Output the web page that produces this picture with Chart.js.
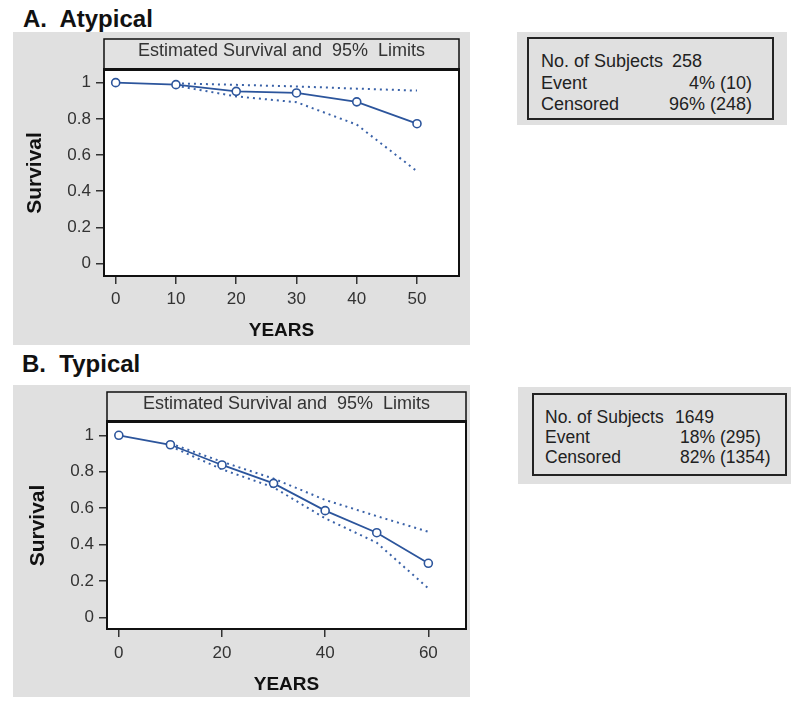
<!DOCTYPE html>
<html>
<head>
<meta charset="utf-8">
<script src="https://cdn.jsdelivr.net/npm/chart.js@4.4.1/dist/chart.umd.min.js"></script>
<style>
  body { margin:0; background:#fff; width:800px; height:710px; position:relative; overflow:hidden;
         font-family:'Liberation Sans', Arial, sans-serif; }
  .abs { position:absolute; }
  .title { font-weight:bold; font-size:24px; line-height:24px; color:#111; white-space:pre; }
  .bg { background:#e0e0e0; }
  .box { border:2px solid #222; box-sizing:border-box; }
  .lg { white-space:pre; color:#222; }
  canvas { position:absolute; background:#e0e0e0; }
</style>
</head>
<body>
<script>
// ---------- DATA ----------
const yearsA = [0, 10, 20, 30, 40, 50];
const survA  = [1.0, 0.989, 0.952, 0.943, 0.894, 0.773];
const upperA = [null, 0.996, 0.988, 0.979, 0.967, 0.956];
const lowerA = [null, 0.983, 0.924, 0.892, 0.768, 0.51];
const xTicksA = [0, 10, 20, 30, 40, 50];

const yearsB = [0, 10, 20, 30, 40, 50, 60];
const survB  = [1.0, 0.948, 0.837, 0.736, 0.586, 0.465, 0.297];
const upperB = [null, 0.955, 0.855, 0.762, 0.645, 0.556, 0.470];
const lowerB = [null, 0.940, 0.813, 0.714, 0.544, 0.410, 0.159];
const xTicksB = [0, 20, 40, 60];

const yTicks = [0, 0.2, 0.4, 0.6, 0.8, 1];
const yTickLabels = ['0', '0.2', '0.4', '0.6', '0.8', '1'];

const headerText = 'Estimated Survival and  95%  Limits';
const titleA = 'A.  Atypical';
const titleB = 'B.  Typical';
const statsA = { labels: ['No. of Subjects', 'Event', 'Censored'], values: ['258', '4% (10)', '96% (248)'] };
const statsB = { labels: ['No. of Subjects', 'Event', 'Censored'], values: ['1649', '18% (295)', '82% (1354)'] };

// ---------- HELPERS ----------
const FONT = "'Liberation Sans', Arial, sans-serif";
const LINE = '#2c559c';
const DOT = '#3a62a8';

function el(tag, cls, style, text) {
  const e = document.createElement(tag);
  if (cls) e.className = cls;
  Object.assign(e.style, style || {});
  if (text !== undefined) e.textContent = text;
  document.body.appendChild(e);
  return e;
}

const framePlugin = {
  id: 'frame',
  beforeDraw(chart, args, opts) {
    const { ctx, chartArea: { left, top, right, bottom } } = chart;
    ctx.save();
    ctx.fillStyle = '#ffffff';
    ctx.fillRect(left, top, right - left, bottom - top);
    ctx.fillStyle = '#e2e2e2';
    ctx.fillRect(left, top - opts.headerH, right - left, opts.headerH);
    ctx.restore();
  },
  afterDraw(chart, args, opts) {
    const { ctx, chartArea: { left, top, right, bottom } } = chart;
    ctx.save();
    ctx.strokeStyle = '#111';
    ctx.lineWidth = 1.5;
    ctx.strokeRect(left, top - opts.headerH, right - left, opts.headerH);
    ctx.lineWidth = 2;
    ctx.beginPath();
    ctx.moveTo(left, top); ctx.lineTo(left, bottom); ctx.lineTo(right, bottom); ctx.lineTo(right, top);
    ctx.stroke();
    ctx.lineWidth = 3;
    ctx.beginPath();
    ctx.moveTo(left - 1, top - 0.5); ctx.lineTo(right + 1, top - 0.5);
    ctx.stroke();
    ctx.fillStyle = '#333';
    ctx.font = '18px ' + FONT;
    ctx.textAlign = 'center';
    ctx.textBaseline = 'middle';
    ctx.fillText(headerText, (left + right) / 2, top - opts.headerH + 12);
    ctx.restore();
  }
};

function makeChart(cfg) {
  const c = document.createElement('canvas');
  c.width = cfg.w; c.height = cfg.h;
  c.style.left = cfg.x + 'px'; c.style.top = cfg.y + 'px';
  c.style.width = cfg.w + 'px'; c.style.height = cfg.h + 'px';
  document.body.appendChild(c);
  const pts = arr => cfg.years.map((x, i) => ({ x, y: arr[i] }));
  return new Chart(c, {
    type: 'line',
    data: {
      datasets: [
        { data: pts(cfg.upper), borderColor: DOT, borderWidth: 2, borderDash: [2, 4], pointRadius: 0, order: 2 },
        { data: pts(cfg.lower), borderColor: DOT, borderWidth: 2, borderDash: [2, 4], pointRadius: 0, order: 2 },
        { data: pts(cfg.surv), borderColor: LINE, borderWidth: 1.8, pointRadius: 4, pointBorderWidth: 1.6,
          pointBorderColor: LINE, pointBackgroundColor: '#ffffff', order: 1 }
      ]
    },
    options: {
      responsive: false,
      animation: false,
      devicePixelRatio: 1,
      layout: { autoPadding: false, padding: { left: 0, top: cfg.areaTop, right: cfg.padRight, bottom: 0 } },
      plugins: { legend: { display: false }, tooltip: { enabled: false }, frame: { headerH: cfg.headerH } },
      scales: {
        x: {
          type: 'linear', min: cfg.xmin, max: cfg.xmax,
          afterFit: s => { s.height = cfg.xAxisH; },
          afterBuildTicks: s => { s.ticks = cfg.xTicks.map(v => ({ value: v })); },
          grid: { drawOnChartArea: false, drawTicks: true, tickLength: 8, color: '#333', lineWidth: 1.5 },
          border: { display: false },
          ticks: { color: '#333', font: { family: FONT, size: 17 }, padding: cfg.xTickPad, maxRotation: 0,
                   callback: (v) => String(v) },
          title: { display: true, text: 'YEARS', color: '#111', font: { family: FONT, size: 19, weight: 'bold' },
                   padding: { top: 0, bottom: cfg.xTitlePad } }
        },
        y: {
          type: 'linear', min: cfg.ymin, max: cfg.ymax,
          afterFit: s => { s.width = cfg.yAxisW; },
          afterBuildTicks: s => { s.ticks = yTicks.map(v => ({ value: v })); },
          grid: { drawOnChartArea: false, drawTicks: true, tickLength: 8, color: '#333', lineWidth: 1.5 },
          border: { display: false },
          ticks: { color: '#333', font: { family: FONT, size: 17 }, padding: 5,
                   callback: (v, i) => yTickLabels[i] },
          title: { display: true, text: 'Survival', color: '#111', font: { family: FONT, size: 21, weight: 'bold' },
                   padding: { top: cfg.yTitlePad, bottom: 0 } }
        }
      }
    },
    plugins: [framePlugin]
  });
}

// ---------- TITLES ----------
el('div', 'abs title', { left: '23px', top: '7px' }, titleA);
el('div', 'abs title', { left: '22px', top: '352px' }, titleB);

// ---------- CHARTS ----------
makeChart({ x: 13, y: 32, w: 457, h: 313, years: yearsA, surv: survA, upper: upperA, lower: lowerA,
  xTicks: xTicksA, xmin: -1.94, xmax: 56.97, ymin: -0.069, ymax: 1.070,
  areaTop: 38, padRight: 11, yAxisW: 91, xAxisH: 69, headerH: 31, xTickPad: 5, xTitlePad: 3, yTitlePad: 10 });

makeChart({ x: 13, y: 385, w: 457, h: 312, years: yearsB, surv: survB, upper: upperB, lower: lowerB,
  xTicks: xTicksB, xmin: -2.29, xmax: 67.3, ymin: -0.064, ymax: 1.073,
  areaTop: 37, padRight: 4, yAxisW: 94, xAxisH: 68, headerH: 30, xTickPad: 6, xTitlePad: 1, yTitlePad: 13 });

// ---------- STAT BOXES ----------
function statBox(bg, box, st, fs, baselines, labelX, valMode, valX, firstValX) {
  el('div', 'abs bg', { left: bg[0] + 'px', top: bg[1] + 'px', width: (bg[2] - bg[0]) + 'px', height: (bg[3] - bg[1]) + 'px' });
  el('div', 'abs box', { left: box[0] + 'px', top: box[1] + 'px', width: (box[2] - box[0]) + 'px', height: (box[3] - box[1]) + 'px' });
  const asc = fs * 0.8465;
  st.labels.forEach((t, i) => {
    el('div', 'abs lg', { left: labelX + 'px', top: (baselines[i] - asc) + 'px', fontSize: fs + 'px', lineHeight: fs + 'px' }, t);
    const vs = { top: (baselines[i] - asc) + 'px', fontSize: fs + 'px', lineHeight: fs + 'px' };
    if (i === 0) { vs.left = firstValX + 'px'; }
    else if (valMode === 'right') { vs.right = (800 - valX) + 'px'; }
    else { vs.left = valX + 'px'; }
    el('div', 'abs lg', vs, st.values[i]);
  });
}
statBox([517, 32, 787, 125], [527, 37, 774, 120], statsA, 18, [67, 89, 110], 541, 'right', 752, 672);
statBox([518, 387, 791, 484], [532, 393, 787, 476], statsB, 17.5, [424, 444, 464], 545, 'left', 680, 675);
</script>
</body>
</html>
